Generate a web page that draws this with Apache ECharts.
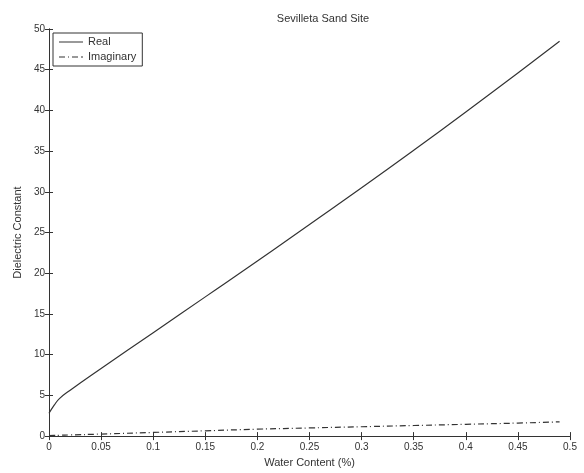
<!DOCTYPE html>
<html>
<head>
<meta charset="utf-8">
<script src="https://cdn.jsdelivr.net/npm/echarts@6/dist/echarts.min.js"></script>
<style>
  html, body { margin: 0; padding: 0; background: #fff; }
  #chart { width: 584px; height: 473px; }
</style>
</head>
<body>
<div id="chart"></div>
<script>
// water content (fraction) and dielectric values
const waterContent = [0, 0.005, 0.01, 0.02, 0.05, 0.1, 0.15, 0.2, 0.25, 0.3, 0.35, 0.4, 0.45, 0.49];
const realPart =     [2.8, 3.8, 4.6, 5.6, 8.3, 12.7, 17.1, 21.5, 26.0, 30.5, 35.1, 39.8, 44.6, 48.5];
const imagPart =     [0.05, 0.08, 0.1, 0.14, 0.25, 0.45, 0.65, 0.85, 1.0, 1.15, 1.3, 1.45, 1.6, 1.75];

const font = 'Liberation Sans';
const ink = '#333';

const toPairs = (xs, ys) => xs.map((x, i) => [x, ys[i]]);

const chart = echarts.init(document.getElementById('chart'));

// mirror axes on top/right give the boxed, ticks-on-all-sides look
const plainAxis = {
  axisLine: { show: true, lineStyle: { color: ink, width: 1 } },
  axisTick: { show: true, inside: true, length: 4, lineStyle: { color: ink } },
  splitLine: { show: false }
};

// legend samples: solid stroke and dash-dot stroke
const solidIcon = 'path://M0,0h24v1h-24z';
const dashDotIcon = 'path://M0,0h6v1h-6z M9,0h1v1h-1z M13,0h6v1h-6z M22,0h2v1h-2z';

chart.setOption({
  animation: false,
  backgroundColor: '#fff',
  textStyle: { fontFamily: font, color: ink },
  title: {
    text: 'Sevilleta Sand Site',
    left: 318, top: 8, textAlign: 'center',
    textStyle: { fontFamily: font, fontSize: 11, fontWeight: 'normal', color: ink }
  },
  legend: {
    orient: 'vertical',
    left: 53, top: 33,
    padding: [3, 6, 3, 6],
    itemGap: 3,
    itemWidth: 24, itemHeight: 1.2,
    borderColor: ink, borderWidth: 1, borderRadius: 0,
    backgroundColor: '#fff',
    textStyle: { fontFamily: font, fontSize: 11, color: ink, lineHeight: 12 },
    data: [
      { name: 'Real', icon: solidIcon },
      { name: 'Imaginary', icon: dashDotIcon }
    ]
  },
  grid: { left: 49, right: 14, top: 29, bottom: 35 },
  xAxis: [
    Object.assign({}, plainAxis, {
      type: 'value', min: 0, max: 0.5, interval: 0.05,
      name: 'Water Content (%)', nameLocation: 'middle', nameGap: 20,
      nameTextStyle: { fontFamily: font, fontSize: 11, color: ink },
      axisLabel: { fontFamily: font, fontSize: 10, color: ink, margin: 6 }
    }),
    Object.assign({}, plainAxis, {
      type: 'value', min: 0, max: 0.5, interval: 0.05, position: 'top',
      axisLabel: { show: false }
    })
  ],
  yAxis: [
    Object.assign({}, plainAxis, {
      type: 'value', min: 0, max: 50, interval: 5,
      name: 'Dielectric Constant', nameLocation: 'middle', nameGap: 24,
      nameTextStyle: { fontFamily: font, fontSize: 11, color: ink },
      axisLabel: { fontFamily: font, fontSize: 10, color: ink, margin: 4 }
    }),
    Object.assign({}, plainAxis, {
      type: 'value', min: 0, max: 50, interval: 5, position: 'right',
      axisLabel: { show: false }
    })
  ],
  series: [
    {
      name: 'Real', type: 'line', showSymbol: false, symbol: 'none', smooth: true,
      data: toPairs(waterContent, realPart),
      lineStyle: { color: ink, width: 1.2, type: 'solid' },
      itemStyle: { color: ink }
    },
    {
      name: 'Imaginary', type: 'line', showSymbol: false, symbol: 'none', smooth: true,
      data: toPairs(waterContent, imagPart),
      lineStyle: { color: ink, width: 1.2, type: [6, 3, 1, 3] },
      itemStyle: { color: ink }
    }
  ]
});
</script>
</body>
</html>
